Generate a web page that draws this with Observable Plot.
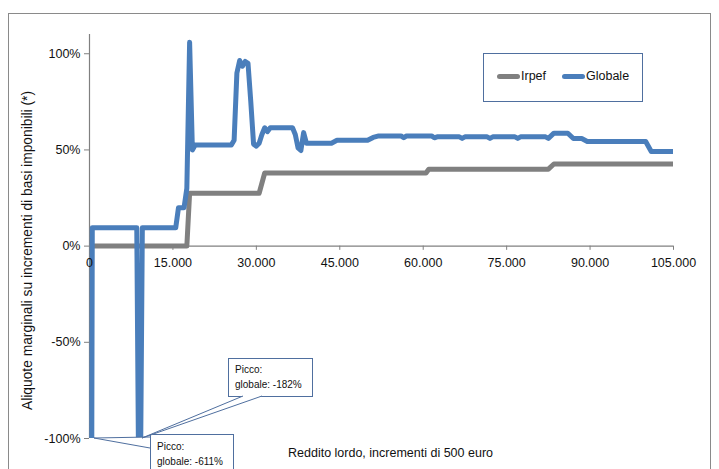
<!DOCTYPE html>
<html>
<head>
<meta charset="utf-8">
<script src="https://cdn.jsdelivr.net/npm/d3@7"></script>
<script src="https://cdn.jsdelivr.net/npm/@observablehq/plot@0.6"></script>
<style>
  html, body { margin: 0; padding: 0; background: #fff; overflow: hidden; }
  #wrap { position: relative; width: 719px; height: 469px; font-family: "Liberation Sans", Arial, sans-serif; }
  #frame { position: absolute; left: 8px; top: 13px; width: 703px; height: 480px; border: 1px solid #8a8a8a; box-sizing: border-box; }
  #chart { position: absolute; left: 0; top: 0; }
  #overlay { position: absolute; left: 0; top: 0; }
  #legend { position: absolute; left: 483px; top: 53px; width: 160px; height: 49px; border: 1px solid #4f6f9f; box-sizing: border-box; background: #fff; }
  .li { position: absolute; top: 15px; font-size: 12.5px; color: #111; display: flex; align-items: center; }
  .sw { display: inline-block; width: 23px; height: 5px; border-radius: 3px; margin-right: 1px; }
</style>
</head>
<body>
<div id="wrap">
  <div id="frame"></div>
  <div id="chart"></div>
  <svg id="overlay" width="719" height="469"></svg>
  <div id="legend"></div>
</div>
<script>
// ---- data ----
const xTicks = [0, 15000, 30000, 45000, 60000, 75000, 90000, 105000];
const yTicks = [-100, -50, 0, 50, 100];

const seriesNames = ["Irpef", "Globale"];
const seriesColors = ["#808080", "#4a7ebb"];

const irpefX = [0, 17500, 18000, 30500, 31500, 60500, 61000, 82500, 83500, 105000];
const irpefY = [0, 0, 27.5, 27.5, 38, 38, 40, 40, 42.7, 42.7];

const globaleX = [0, 500, 8500, 9000, 9500, 15500, 16000, 17000, 17500, 18000, 18500, 19000,
  25500, 26000, 26500, 27000, 27500, 28000, 28500, 29000, 29500, 30000, 30500, 31000, 31500,
  32000, 32500, 36500, 37000, 37500, 38000, 38500, 39000, 43500, 44500, 50000, 51000, 52000,
  56000, 56500, 57000, 61500, 62000, 62500, 66500, 67000, 67500, 71500, 72000, 72500, 76500,
  77000, 77500, 82000, 82500, 83500, 86000, 87000, 88500, 89500, 100000, 101000, 105000];
const globaleY = [-611, 9.5, 9.5, -182, 9.5, 9.5, 20, 20, 30, 106, 50, 52.5,
  52.5, 55, 90, 96.5, 93.5, 96, 95, 75, 53, 52, 53.5, 58, 61.5,
  59.5, 61.5, 61.5, 58, 51, 49.7, 59, 53.5, 53.5, 55, 55, 56.5, 57.3,
  57.3, 56.3, 57.3, 57.3, 56.3, 56.8, 56.8, 56, 56.8, 56.8, 56, 56.8, 56.8,
  56, 56.8, 56.8, 56, 58.7, 58.7, 55.9, 55.9, 54.4, 54.4, 49.2, 49.2];

const yLabel = "Aliquote marginali su incrementi di basi imponibili (*)";
const xLabel = "Reddito lordo, incrementi di 500 euro";
const callouts = [
  {x: 0, y: -100, lines: ["Picco:", "globale: -611%"]},
  {x: 9000, y: -100, lines: ["Picco:", "globale: -182%"]}
];

// ---- build ----
const irpef = irpefX.map((x, i) => ({x, y: irpefY[i]}));
const globale = globaleX.map((x, i) => ({x, y: globaleY[i]}));
const fmtX = d => d === 0 ? "0" : d3.format(",")(d).replace(/,/g, ".");

const axisColor = "#808080";
const chart = Plot.plot({
  width: 719, height: 469,
  marginLeft: 89, marginRight: 46, marginTop: 34, marginBottom: 31,
  x: {domain: [0, 105000], axis: null},
  y: {domain: [-100, 110], axis: null},
  style: {fontFamily: "'Liberation Sans', Arial, sans-serif", fontSize: "12.5px", background: "transparent", color: "#111", overflow: "visible"},
  marks: [
    Plot.ruleX([0], {stroke: axisColor, strokeWidth: 1.2}),
    Plot.axisY({ticks: yTicks, tickFormat: d => d + "%", tickSize: 5, tickPadding: 4, label: null, stroke: axisColor, fill: "#111"}),
    Plot.text([yLabel], {frameAnchor: "left", textAnchor: "middle", rotate: -90, dx: -62, dy: 14, text: d => d, fontSize: 13.8, fill: "#111"}),
    Plot.line(irpef, {x: "x", y: "y", stroke: seriesColors[0], strokeWidth: 5, strokeLinejoin: "round", strokeLinecap: "round", clip: true}),
    Plot.ruleY([0], {stroke: axisColor, strokeWidth: 1.2}),
    Plot.ruleX(xTicks.slice(1), {x: d => d, y1: 0, y2: -2.2, stroke: axisColor}),
    Plot.line(globale, {x: "x", y: "y", stroke: seriesColors[1], strokeWidth: 5, strokeLinejoin: "round", strokeLinecap: "round", clip: true}),
    Plot.text(xTicks, {x: d => d, y: 0, dy: 17, text: fmtX, fill: "#111"}),
    Plot.text([xLabel], {frameAnchor: "bottom", dx: 9, dy: 18, text: d => d, fontSize: 12.5, fill: "#111"})
  ]
});
document.getElementById("chart").appendChild(chart);

// legend
const legend = document.getElementById("legend");
const legPos = [13, 78];
seriesNames.forEach((name, i) => {
  const el = document.createElement("div");
  el.className = "li";
  el.style.left = legPos[i] + "px";
  el.innerHTML = `<span class="sw" style="background:${seriesColors[i]}"></span>${name}`;
  legend.appendChild(el);
});

// callouts
const sx = chart.scale("x"), sy = chart.scale("y");
const svg = d3.select("#overlay");
const cStroke = "#4f6f9f";
const boxes = [
  {x0: 150, y0: 434, x1: 233, y1: 480, base: [[150, 437], [150, 448]], tx: 157, ty: [450, 465], dx: 5},
  {x0: 228, y0: 358, x1: 312, y1: 396, base: [[243, 396], [262, 396]], tx: 235, ty: [373, 388], dx: 3}
];
callouts.forEach((c, i) => {
  const b = boxes[i];
  const tip = [sx.apply(c.x) + b.dx, sy.apply(c.y)];
  svg.append("rect").attr("x", b.x0 + 0.5).attr("y", b.y0 + 0.5).attr("width", b.x1 - b.x0).attr("height", b.y1 - b.y0)
    .attr("fill", "#fff").attr("stroke", cStroke).attr("stroke-width", 1);
  svg.append("polygon").attr("points", [tip, b.base[0], b.base[1]].map(p => p.join(",")).join(" "))
    .attr("fill", "#fff").attr("stroke", "none");
  b.base.forEach(p => svg.append("line").attr("x1", tip[0]).attr("y1", tip[1]).attr("x2", p[0]).attr("y2", p[1])
    .attr("stroke", cStroke).attr("stroke-width", 1));
  c.lines.forEach((t, j) => svg.append("text").attr("x", b.tx).attr("y", b.ty[j]).text(t)
    .attr("font-size", 10).attr("fill", "#111").attr("font-family", "'Liberation Sans', Arial, sans-serif"));
});
</script>
</body>
</html>
